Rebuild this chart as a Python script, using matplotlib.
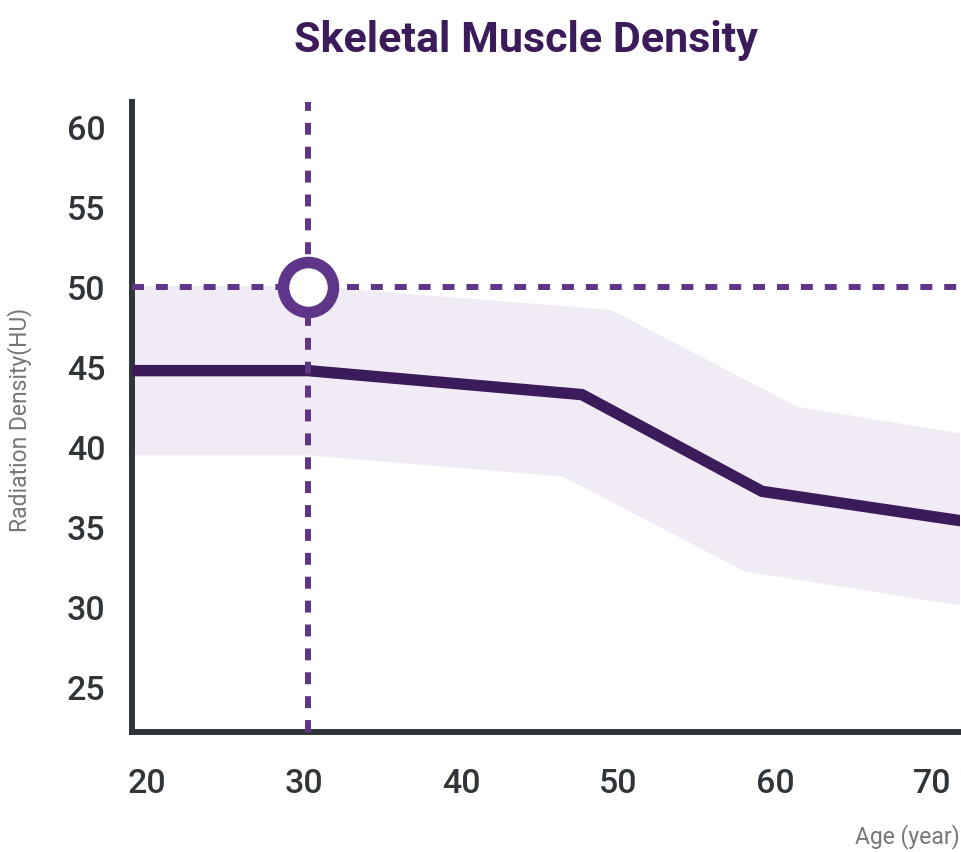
import matplotlib
matplotlib.use("Agg")
import matplotlib.pyplot as plt
from matplotlib.transforms import ScaledTranslation

# ---- data ----
line_x = [18.0, 30.0, 47.45, 58.92, 72.0]
line_y = [44.8, 44.8, 43.3, 37.25, 35.35]

upper_x = [18.0, 30.0, 49.3, 61.15, 72.0]
upper_y = [50.1, 50.1, 48.6, 42.55, 40.8]
lower_x = [18.0, 30.0, 46.24, 57.83, 72.0]
lower_y = [39.5, 39.5, 38.17, 32.24, 30.05]

ref_age = 30
ref_value = 50

x_ticks = [20, 30, 40, 50, 60, 70]
y_ticks = [25, 30, 35, 40, 45, 50, 55, 60]

title = "Skeletal Muscle Density"
xlabel = "Age (year)"
ylabel = "Radiation Density(HU)"

# ---- style ----
plt.rcParams['font.family'] = ['Roboto', 'DejaVu Sans']
DARK = "#3c1b5a"
MID = "#5f358a"
BAND = "#f0ebf4"
SPINE = "#2f3539"
GRAY = "#767676"

fig = plt.figure(figsize=(9.62, 8.52), dpi=100)
ax = fig.add_axes([132/962, 120/852, 828/962, 630/852])

poly_x = upper_x + lower_x[::-1]
poly_y = upper_y + lower_y[::-1]
ax.fill(poly_x, poly_y, color=BAND, lw=0, zorder=1)

ax.plot(line_x, line_y, color=DARK, lw=8.2, solid_joinstyle='miter',
        solid_capstyle='butt', zorder=3)

ax.axhline(ref_value, color=MID, lw=4.3, dashes=(2, 2), zorder=4)
ax.axvline(ref_age, color=MID, lw=4.3, dashes=(2, 2), zorder=4)
ax.plot([ref_age], [ref_value], marker='o', ms=36, mfc='white', mec=MID,
        mew=8.3, zorder=5, clip_on=False)

ax.set_xlim(18.79, 71.53)
ax.set_ylim(22.2, 61.6)
ax.set_xticks(x_ticks)
ax.set_yticks(y_ticks)
ax.tick_params(length=0, labelsize=24.5, labelcolor=SPINE)
ax.tick_params(axis='y', pad=19)
ax.tick_params(axis='x', pad=26)
for lab in ax.get_xticklabels() + ax.get_yticklabels():
    lab.set_fontweight('medium')
for lab in ax.get_xticklabels():
    lab.set_transform(lab.get_transform() + ScaledTranslation(-4/100, 0, fig.dpi_scale_trans))

for s in ['top', 'right']:
    ax.spines[s].set_visible(False)
for s in ['left', 'bottom']:
    ax.spines[s].set_linewidth(4.3)
    ax.spines[s].set_color(SPINE)
    ax.spines[s].set_capstyle('projecting')

fig.text(526/962, 1 - 52/852, title, ha='center', va='baseline',
         fontsize=31, fontweight='bold', color=DARK)
fig.text(960/962, 1 - 843/852, xlabel, ha='right', va='baseline',
         fontsize=16.5, color=GRAY)
fig.text(20/962, 1 - 420/852, ylabel, ha='center', va='center',
         rotation=90, fontsize=16.5, color=GRAY)

fig.savefig("out.png", dpi=100)
